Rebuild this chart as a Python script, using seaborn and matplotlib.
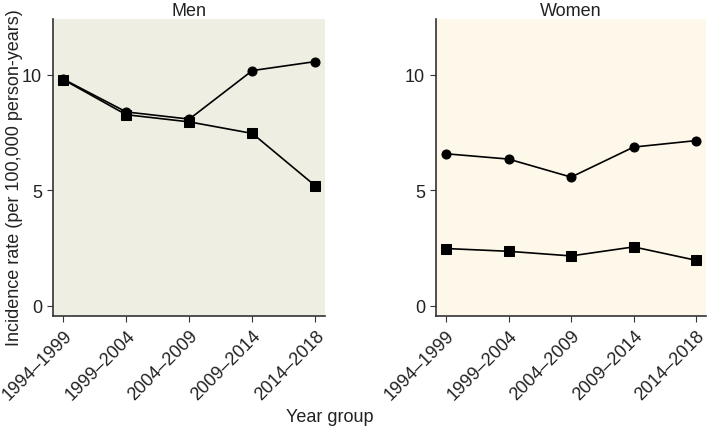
import pandas as pd
import seaborn as sns
import matplotlib.pyplot as plt

# Daten
year_groups = ['1994–1999', '1999–2004', '2004–2009', '2009–2014', '2014–2018']
men_circle = [9.8, 8.38, 8.07, 10.17, 10.56]
men_square = [9.78, 8.26, 7.95, 7.45, 5.18]
women_circle = [6.57, 6.34, 5.56, 6.86, 7.14]
women_square = [2.47, 2.35, 2.15, 2.54, 1.96]

panels = [
    ('Men', men_circle, men_square, '#eeeee2', [0.075, 0.2645, 0.384, 0.689]),
    ('Women', women_circle, women_square, '#fdf8e9', [0.615, 0.2645, 0.381, 0.689]),
]

sns.set_style('ticks')
plt.rcParams['font.family'] = ['Liberation Sans', 'DejaVu Sans']

fig = plt.figure(figsize=(7.09, 4.31), dpi=100)

for title, circ, sq, bg, pos in panels:
    ax = fig.add_axes(pos)
    df = pd.DataFrame({
        'x': list(range(len(year_groups))) * 2,
        'rate': circ + sq,
        'series': ['circle'] * len(circ) + ['square'] * len(sq),
    })
    sns.lineplot(data=df, x='x', y='rate', style='series',
                 markers={'circle': 'o', 'square': 's'}, dashes=False,
                 color='black', linewidth=1.2, markersize=6.5,
                 markeredgecolor='black', legend=False, ax=ax)
    ax.set_facecolor(bg)
    ax.set_xlim(-0.16, 4.16)
    ax.set_ylim(-0.45, 12.4)
    ax.set_yticks([0, 5, 10])
    ax.set_xticks(range(len(year_groups)))
    ax.set_xticklabels(year_groups, rotation=45, ha='right', rotation_mode='anchor')
    ax.tick_params(labelsize=13, length=4.5, width=0.8, colors='#333333',
                   labelcolor='#222222')
    ax.set_xlabel('')
    ax.set_ylabel('')
    ax.set_title(title, fontsize=13, pad=3, color='#222222')
    for s in ['top', 'right']:
        ax.spines[s].set_visible(False)
    for s in ['left', 'bottom']:
        ax.spines[s].set_linewidth(1.2)
        ax.spines[s].set_color('#333333')

fig.text(0.021, 0.587, 'Incidence rate (per 100,000 person-years)', rotation=90,
         ha='center', va='center', fontsize=13, color='#222222')
fig.text(0.465, 0.032, 'Year group', ha='center', va='center', fontsize=13,
         color='#222222')

fig.savefig('out.png', dpi=100)
